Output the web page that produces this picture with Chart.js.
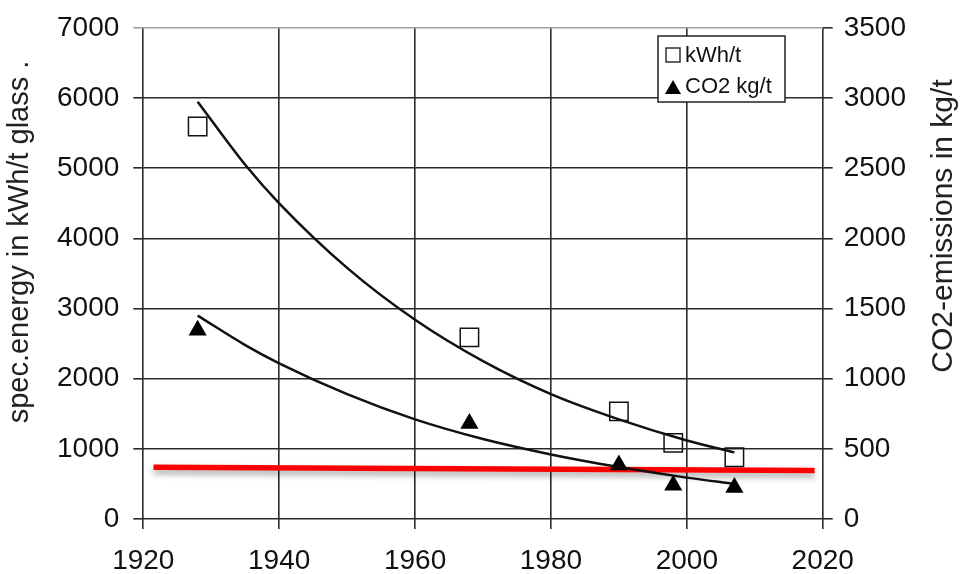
<!DOCTYPE html>
<html>
<head>
<meta charset="utf-8">
<script src="https://cdn.jsdelivr.net/npm/chart.js@4.4.1/dist/chart.umd.min.js"></script>
<style>
  html, body { margin: 0; padding: 0; background: #fff; }
  #wrap { width: 961px; height: 574px; }
</style>
</head>
<body>
<div id="wrap"><canvas id="chart"></canvas></div>
<script>
// measured points
const years = [1928, 1968, 1990, 1998, 2007];
const energyKwh = [5595, 2590, 1535, 1085, 880];      // left axis
const co2Kg = [1345, 680, 385, 240, 225];              // right axis

// trend curves
const trendYears = [1928, 1935, 1940, 1950, 1960, 1970, 1980, 1990, 2000, 2007];
const energyTrend = [5950, 5050, 4500, 3580, 2840, 2250, 1780, 1420, 1120, 950];
const co2Trend = [1450, 1240, 1110, 890, 710, 570, 460, 370, 295, 250];

// red reference line (left axis)
const redYears = [1921.5, 2018.8];
const redLevel = [738, 690];

const leftTitle = "spec.energy in kWh/t glass .";
const rightTitle = "CO2-emissions in kg/t";

const pts = (xs, ys) => xs.map((x, i) => ({ x: x, y: ys[i] }));

const font = "'Liberation Sans', Arial, sans-serif";

const shadowPlugin = {
    id: "redShadow",
    beforeDatasetDraw(chart, args) {
        if (args.index === 4) {
            chart.ctx.save();
            chart.ctx.shadowColor = "rgba(0,0,0,0.35)";
            chart.ctx.shadowBlur = 6;
            chart.ctx.shadowOffsetY = 4;
        }
    },
    afterDatasetDraw(chart, args) {
        if (args.index === 4) chart.ctx.restore();
    }
};

// axis titles, both read bottom-to-top
const titles = {
    id: "titles",
    afterDraw(chart) {
        const c = chart.ctx;
        const a = chart.chartArea;
        c.save();
        c.fillStyle = "#222";
        c.textAlign = "center";
        c.textBaseline = "middle";
        c.font = "29px " + font;
        c.translate(20, a.top + 214);
        c.rotate(-Math.PI / 2);
        c.fillText(leftTitle, 0, 0);
        c.restore();
        c.save();
        c.fillStyle = "#222";
        c.textAlign = "center";
        c.textBaseline = "middle";
        c.font = "30px " + font;
        c.translate(944, a.top + 198);
        c.rotate(-Math.PI / 2);
        c.fillText(rightTitle, 0, 0);
        c.restore();
    }
};

const legendBox = {
    id: "legendBox",
    afterDraw(chart) {
        const c = chart.ctx;
        c.save();
        c.fillStyle = "#fff";
        c.strokeStyle = "#222";
        c.lineWidth = 1.5;
        c.fillRect(658, 36, 127, 66);
        c.strokeRect(658, 36, 127, 66);
        // square
        c.lineWidth = 1.4;
        c.strokeRect(666, 48, 14, 14);
        // triangle
        c.fillStyle = "#000";
        c.beginPath();
        c.moveTo(673, 80);
        c.lineTo(681, 94);
        c.lineTo(665, 94);
        c.closePath();
        c.fill();
        c.fillStyle = "#111";
        c.font = "22px " + font;
        c.textBaseline = "middle";
        c.fillText("kWh/t", 685, 56);
        c.fillText("CO2 kg/t", 685, 87);
        c.restore();
    }
};

new Chart(document.getElementById("chart"), {
    type: "scatter",
    data: {
        datasets: [
            {
                label: "kWh/t",
                data: pts(years, energyKwh),
                yAxisID: "y",
                pointStyle: "rect",
                pointRadius: 13,
                pointBackgroundColor: "rgba(255,255,255,0)",
                pointBorderColor: "#111",
                pointBorderWidth: 1.5,
                showLine: false
            },
            {
                label: "CO2 kg/t",
                data: pts(years, co2Kg),
                yAxisID: "y2",
                pointStyle: "triangle",
                pointRadius: 10.5,
                pointBackgroundColor: "#000",
                pointBorderColor: "#000",
                pointBorderWidth: 0,
                showLine: false
            },
            {
                label: "energy trend",
                data: pts(trendYears, energyTrend),
                yAxisID: "y",
                showLine: true,
                borderColor: "#111",
                borderWidth: 2.5,
                pointRadius: 0,
                cubicInterpolationMode: "monotone"
            },
            {
                label: "co2 trend",
                data: pts(trendYears, co2Trend),
                yAxisID: "y2",
                showLine: true,
                borderColor: "#111",
                borderWidth: 2.5,
                pointRadius: 0,
                cubicInterpolationMode: "monotone"
            },
            {
                label: "limit",
                data: pts(redYears, redLevel),
                yAxisID: "y",
                showLine: true,
                borderColor: "#ff0000",
                borderWidth: 5.5,
                pointRadius: 0
            }
        ]
    },
    options: {
        responsive: true,
        maintainAspectRatio: false,
        animation: false,
        layout: { padding: { top: 19, right: 44, bottom: -19, left: 43 } },
        plugins: {
            legend: { display: false },
            tooltip: { enabled: false }
        },
        scales: {
            x: {
                type: "linear",
                min: 1920,
                max: 2020,
                ticks: {
                    stepSize: 20,
                    color: "#111",
                    font: { family: font, size: 28, lineHeight: 1 },
                    padding: 18,
                    callback: v => v
                },
                grid: { color: "#2a2a2a", lineWidth: 1.6, tickLength: 10 },
                border: { display: false }
            },
            y: {
                position: "left",
                min: 0,
                max: 7000,
                ticks: {
                    stepSize: 1000,
                    color: "#111",
                    font: { family: font, size: 28, lineHeight: 1 },
                    padding: 14,
                    callback: v => v
                },
                grid: {
                    color: ctx => ctx.tick && ctx.tick.value === 7000 ? "#a0a0a0" : "#2a2a2a",
                    lineWidth: 1.6,
                    tickLength: 10
                },
                border: { display: false }
            },
            y2: {
                position: "right",
                min: 0,
                max: 3500,
                ticks: {
                    stepSize: 500,
                    color: "#111",
                    font: { family: font, size: 28, lineHeight: 1 },
                    padding: 11,
                    callback: v => v
                },
                grid: {
                    drawOnChartArea: false,
                    color: "#2a2a2a",
                    lineWidth: 1.6,
                    tickLength: 10
                },
                border: { display: false }
            }
        }
    },
    plugins: [shadowPlugin, titles, legendBox]
});
</script>
</body>
</html>
